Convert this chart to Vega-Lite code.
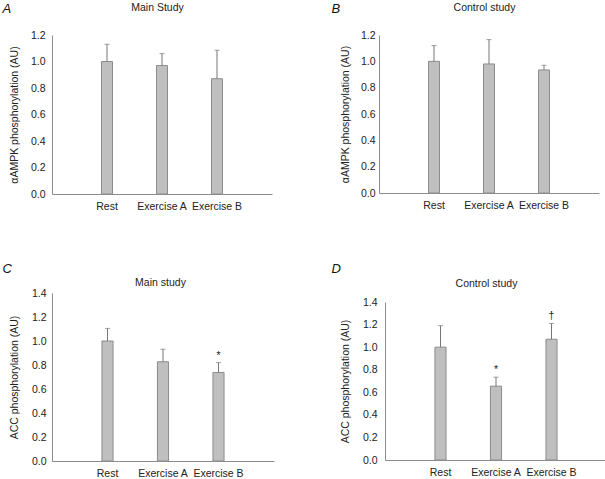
{
  "$schema": "https://vega.github.io/schema/vega-lite/v6.json",
  "background": "white",
  "padding": {"left": 2, "top": 2, "right": 0, "bottom": 0},
  "data": {
    "values": [
      {"panel": "A", "cond": "Rest", "mean": 1.0, "upper": 1.13, "sig": ""},
      {"panel": "A", "cond": "Exercise A", "mean": 0.97, "upper": 1.06, "sig": ""},
      {"panel": "A", "cond": "Exercise B", "mean": 0.87, "upper": 1.085, "sig": ""},
      {"panel": "B", "cond": "Rest", "mean": 1.0, "upper": 1.12, "sig": ""},
      {"panel": "B", "cond": "Exercise A", "mean": 0.98, "upper": 1.165, "sig": ""},
      {"panel": "B", "cond": "Exercise B", "mean": 0.935, "upper": 0.97, "sig": ""},
      {"panel": "C", "cond": "Rest", "mean": 1.0, "upper": 1.105, "sig": ""},
      {"panel": "C", "cond": "Exercise A", "mean": 0.827, "upper": 0.932, "sig": ""},
      {"panel": "C", "cond": "Exercise B", "mean": 0.738, "upper": 0.82, "sig": "*"},
      {"panel": "D", "cond": "Rest", "mean": 1.0, "upper": 1.19, "sig": ""},
      {"panel": "D", "cond": "Exercise A", "mean": 0.654, "upper": 0.734, "sig": "*"},
      {"panel": "D", "cond": "Exercise B", "mean": 1.07, "upper": 1.21, "sig": "†"}
    ]
  },
  "columns": 2,
  "align": "none",
  "bounds": "full",
  "spacing": {"row": 51, "column": 57},
  "concat": [
    {
      "width": 220, "height": 159,
      "transform": [{"filter": "datum.panel === 'A'"}],
      "title": {"text": "A", "dx": -7, "dy": 18},
      "layer": [
        {"mark": {"type": "bar", "fill": "#bfbfbf", "stroke": "#8c8c8c", "strokeWidth": 1},
         "encoding": {
           "x": {"field": "cond", "type": "nominal", "sort": null, "scale": {"paddingInner": 0.8, "paddingOuter": 0.9}, "axis": {"title": null, "labelAngle": 0, "labelPadding": 7}},
           "y": {"field": "mean", "type": "quantitative", "scale": {"domain": [0, 1.2]}, "axis": {"title": "αAMPK phosphorylation (AU)", "values": [0, 0.2, 0.4, 0.6, 0.8, 1.0, 1.2], "format": ".1f", "labelPadding": 7, "titlePadding": 11}}}},
        {"mark": {"type": "rule", "color": "#777777", "strokeWidth": 1},
         "encoding": {
           "x": {"field": "cond", "type": "nominal", "sort": null, "axis": {"orient": "top", "labels": false, "domain": false, "ticks": false, "title": "Main Study", "titlePadding": 25, "titleBaseline": "alphabetic", "titleX": 105}},
           "y": {"field": "mean", "type": "quantitative", "axis": {"title": "αAMPK phosphorylation (AU)", "values": [0, 0.2, 0.4, 0.6, 0.8, 1.0, 1.2], "format": ".1f", "labelPadding": 7, "titlePadding": 11}},
           "y2": {"field": "upper"}}},
        {"mark": {"type": "tick", "color": "#777777", "size": 5, "thickness": 1},
         "encoding": {
           "x": {"field": "cond", "type": "nominal", "sort": null, "axis": null},
           "y": {"field": "upper", "type": "quantitative", "axis": {"title": "αAMPK phosphorylation (AU)", "values": [0, 0.2, 0.4, 0.6, 0.8, 1.0, 1.2], "format": ".1f", "labelPadding": 7, "titlePadding": 11}}}}
      ],
      "resolve": {"axis": {"x": "independent"}}
    },
    {
      "width": 220, "height": 158,
      "transform": [{"filter": "datum.panel === 'B'"}],
      "title": {"text": "B", "dx": -9, "dy": 18},
      "layer": [
        {"mark": {"type": "bar", "fill": "#bfbfbf", "stroke": "#8c8c8c", "strokeWidth": 1},
         "encoding": {
           "x": {"field": "cond", "type": "nominal", "sort": null, "scale": {"paddingInner": 0.8, "paddingOuter": 0.9}, "axis": {"title": null, "labelAngle": 0, "labelPadding": 7}},
           "y": {"field": "mean", "type": "quantitative", "scale": {"domain": [0, 1.2]}, "axis": {"title": "αAMPK phosphorylation (AU)", "values": [0, 0.2, 0.4, 0.6, 0.8, 1.0, 1.2], "format": ".1f", "labelPadding": 4, "titlePadding": 10}}}},
        {"mark": {"type": "rule", "color": "#777777", "strokeWidth": 1},
         "encoding": {
           "x": {"field": "cond", "type": "nominal", "sort": null, "axis": {"orient": "top", "labels": false, "domain": false, "ticks": false, "title": "Control study", "titlePadding": 25, "titleBaseline": "alphabetic", "titleX": 105}},
           "y": {"field": "mean", "type": "quantitative", "axis": {"title": "αAMPK phosphorylation (AU)", "values": [0, 0.2, 0.4, 0.6, 0.8, 1.0, 1.2], "format": ".1f", "labelPadding": 4, "titlePadding": 10}},
           "y2": {"field": "upper"}}},
        {"mark": {"type": "tick", "color": "#777777", "size": 5, "thickness": 1},
         "encoding": {
           "x": {"field": "cond", "type": "nominal", "sort": null, "axis": null},
           "y": {"field": "upper", "type": "quantitative", "axis": {"title": "αAMPK phosphorylation (AU)", "values": [0, 0.2, 0.4, 0.6, 0.8, 1.0, 1.2], "format": ".1f", "labelPadding": 4, "titlePadding": 10}}}}
      ],
      "resolve": {"axis": {"x": "independent"}}
    },
    {
      "width": 222, "height": 168,
      "transform": [{"filter": "datum.panel === 'C'"}],
      "title": {"text": "C", "dx": -7, "dy": 3},
      "layer": [
        {"mark": {"type": "bar", "fill": "#bfbfbf", "stroke": "#8c8c8c", "strokeWidth": 1},
         "encoding": {
           "x": {"field": "cond", "type": "nominal", "sort": null, "scale": {"paddingInner": 0.8, "paddingOuter": 0.9}, "axis": {"title": null, "labelAngle": 0, "labelPadding": 7}},
           "y": {"field": "mean", "type": "quantitative", "scale": {"domain": [0, 1.4]}, "axis": {"title": "ACC phosphorylation (AU)", "values": [0, 0.2, 0.4, 0.6, 0.8, 1.0, 1.2, 1.4], "format": ".1f", "labelPadding": 6, "titlePadding": 12}}}},
        {"mark": {"type": "rule", "color": "#777777", "strokeWidth": 1},
         "encoding": {
           "x": {"field": "cond", "type": "nominal", "sort": null, "axis": {"orient": "top", "labels": false, "domain": false, "ticks": false, "title": "Main study", "titlePadding": 8, "titleBaseline": "alphabetic", "titleX": 108}},
           "y": {"field": "mean", "type": "quantitative", "axis": {"title": "ACC phosphorylation (AU)", "values": [0, 0.2, 0.4, 0.6, 0.8, 1.0, 1.2, 1.4], "format": ".1f", "labelPadding": 6, "titlePadding": 12}},
           "y2": {"field": "upper"}}},
        {"mark": {"type": "tick", "color": "#777777", "size": 5, "thickness": 1},
         "encoding": {
           "x": {"field": "cond", "type": "nominal", "sort": null, "axis": null},
           "y": {"field": "upper", "type": "quantitative", "axis": {"title": "ACC phosphorylation (AU)", "values": [0, 0.2, 0.4, 0.6, 0.8, 1.0, 1.2, 1.4], "format": ".1f", "labelPadding": 6, "titlePadding": 12}}}},
        {"mark": {"type": "text", "baseline": "alphabetic", "dy": -4, "fontSize": 10.5, "color": "#222222"},
         "encoding": {
           "x": {"field": "cond", "type": "nominal", "sort": null, "axis": null},
           "y": {"field": "upper", "type": "quantitative", "axis": {"title": "ACC phosphorylation (AU)", "values": [0, 0.2, 0.4, 0.6, 0.8, 1.0, 1.2, 1.4], "format": ".1f", "labelPadding": 6, "titlePadding": 12}},
           "text": {"field": "sig"}}}
      ],
      "resolve": {"axis": {"x": "independent"}}
    },
    {
      "width": 222, "height": 158,
      "transform": [{"filter": "datum.panel === 'D'"}],
      "title": {"text": "D", "dx": -9, "dy": 2},
      "layer": [
        {"mark": {"type": "bar", "fill": "#bfbfbf", "stroke": "#8c8c8c", "strokeWidth": 1},
         "encoding": {
           "x": {"field": "cond", "type": "nominal", "sort": null, "scale": {"paddingInner": 0.8, "paddingOuter": 0.9}, "axis": {"title": null, "labelAngle": 0, "labelPadding": 7}},
           "y": {"field": "mean", "type": "quantitative", "scale": {"domain": [0, 1.4]}, "axis": {"title": "ACC phosphorylation (AU)", "values": [0, 0.2, 0.4, 0.6, 0.8, 1.0, 1.2, 1.4], "format": ".1f", "labelPadding": 8, "titlePadding": 12}}}},
        {"mark": {"type": "rule", "color": "#777777", "strokeWidth": 1},
         "encoding": {
           "x": {"field": "cond", "type": "nominal", "sort": null, "axis": {"orient": "top", "labels": false, "domain": false, "ticks": false, "title": "Control study", "titlePadding": 16, "titleBaseline": "alphabetic", "titleX": 101}},
           "y": {"field": "mean", "type": "quantitative", "axis": {"title": "ACC phosphorylation (AU)", "values": [0, 0.2, 0.4, 0.6, 0.8, 1.0, 1.2, 1.4], "format": ".1f", "labelPadding": 8, "titlePadding": 12}},
           "y2": {"field": "upper"}}},
        {"mark": {"type": "tick", "color": "#777777", "size": 5, "thickness": 1},
         "encoding": {
           "x": {"field": "cond", "type": "nominal", "sort": null, "axis": null},
           "y": {"field": "upper", "type": "quantitative", "axis": {"title": "ACC phosphorylation (AU)", "values": [0, 0.2, 0.4, 0.6, 0.8, 1.0, 1.2, 1.4], "format": ".1f", "labelPadding": 8, "titlePadding": 12}}}},
        {"mark": {"type": "text", "baseline": "alphabetic", "dy": -4, "fontSize": 10.5, "color": "#222222"},
         "encoding": {
           "x": {"field": "cond", "type": "nominal", "sort": null, "axis": null},
           "y": {"field": "upper", "type": "quantitative", "axis": {"title": "ACC phosphorylation (AU)", "values": [0, 0.2, 0.4, 0.6, 0.8, 1.0, 1.2, 1.4], "format": ".1f", "labelPadding": 8, "titlePadding": 12}},
           "text": {"field": "sig"}}}
      ],
      "resolve": {"axis": {"x": "independent"}}
    }
  ],
  "config": {
    "view": {"stroke": null},
    "font": "Liberation Sans",
    "axis": {"grid": false, "ticks": false, "labelOverlap": false, "domainColor": "#8c8c8c", "labelFontSize": 10.5, "labelColor": "#222222", "titleFontSize": 10.5, "titleFontWeight": "normal", "titleColor": "#222222"},
    "title": {"fontSize": 13, "fontStyle": "italic", "fontWeight": "normal", "anchor": "start", "frame": "bounds", "baseline": "alphabetic", "offset": 0, "color": "#111111"}
  }
}
